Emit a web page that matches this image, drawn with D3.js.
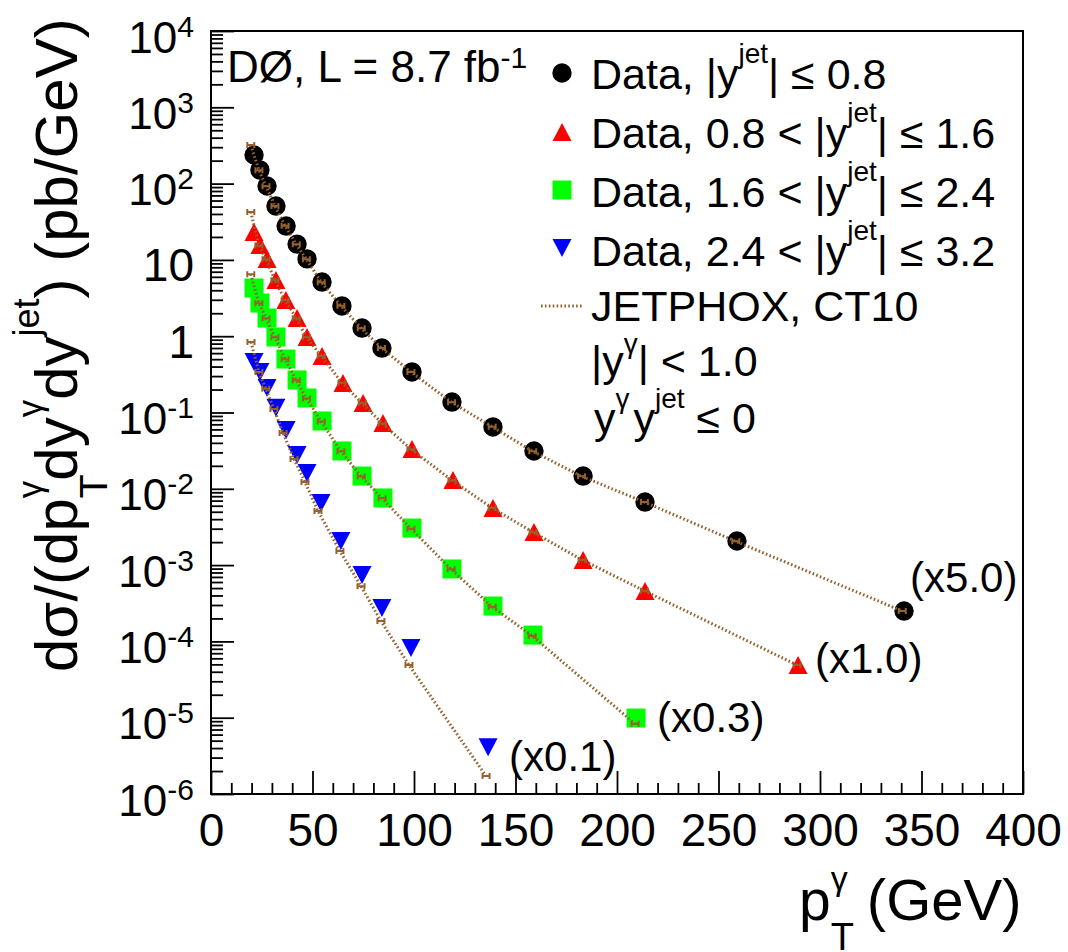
<!DOCTYPE html>
<html>
<head>
<meta charset="utf-8">
<script src="https://cdn.jsdelivr.net/npm/d3@7"></script>
<style>
  body { margin: 0; background: #fff; }
  svg { display: block; font-family: 'Liberation Sans', Arial, Helvetica, sans-serif; }
</style>
</head>
<body>
<div id="canvas"></div>
<script>
// photon pT (GeV) and scaled cross sections (pb/GeV) for the four |y^jet| bins
const ptCentral = [21.2, 24.1, 27.6, 32.0, 37.0, 42.4, 47.3, 54.7, 64.5, 74.4, 84.2, 99.0, 118.7, 138.9, 159.1, 183.3, 213.8, 259.1, 341.4];
const xsCentral = [237, 151, 93, 50.8, 27.8, 16.1, 10.3, 5.13, 2.49, 1.28, 0.70, 0.34, 0.137, 0.0646, 0.0313, 0.0147, 0.00671, 0.00207, 2.5e-4];
const ptMid = [21.2, 24.1, 27.6, 32.0, 36.9, 42.4, 47.3, 54.7, 65.0, 74.9, 84.7, 99.0, 119.2, 138.9, 159.1, 183.3, 213.8, 289.2];
const xsMid = [23.2, 15.7, 10.3, 5.45, 2.98, 1.73, 0.977, 0.55, 0.244, 0.133, 0.0728, 0.0333, 0.0130, 0.0056, 0.00272, 0.00117, 4.58e-4, 4.9e-5];
const ptFwd = [21.2, 24.1, 27.6, 32.0, 36.9, 42.4, 47.3, 54.7, 64.5, 74.4, 84.7, 99.0, 118.7, 138.9, 158.6, 209.4];
const xsFwd = [4.28, 2.72, 1.73, 0.977, 0.502, 0.267, 0.155, 0.0774, 0.0313, 0.0147, 0.00759, 0.00306, 8.9e-4, 2.91e-4, 1.21e-4, 9.9e-6];
const ptVfwd = [21.2, 24.1, 27.6, 32.0, 37.0, 42.4, 47.3, 54.2, 64.0, 74.4, 84.2, 98.5, 136.5];
const xsVfwd = [0.459, 0.34, 0.21, 0.115, 0.059, 0.0277, 0.0161, 0.00652, 0.00207, 7.4e-4, 2.74e-4, 8.2e-5, 4.1e-6];

// JETPHOX CT10 predictions
const thPtCentral = [19.6, 23.6, 27.1, 31.5, 36.5, 42.0, 47.0, 54.3, 64.0, 74.0, 84.0, 98.5, 118.5, 138.5, 158.5, 182.5, 213.5, 258.5, 340.5];
const thXsCentral = [320, 150, 92, 51, 28, 16, 10.2, 5.1, 2.5, 1.27, 0.70, 0.34, 0.136, 0.065, 0.031, 0.0146, 0.0067, 0.00205, 2.5e-4];
const thPtMid = [19.6, 23.6, 27.1, 31.5, 36.5, 42.0, 47.0, 54.3, 64.5, 74.5, 84.3, 98.5, 118.7, 138.5, 158.7, 182.8, 213.5, 288.7];
const thXsMid = [42.5, 15.5, 10.2, 5.4, 2.95, 1.72, 0.97, 0.55, 0.245, 0.132, 0.072, 0.033, 0.0129, 0.0056, 0.0027, 0.00117, 4.6e-4, 4.9e-5];
const thPtFwd = [19.6, 23.6, 27.1, 31.5, 36.5, 42.0, 47.0, 54.3, 64.0, 74.0, 84.3, 98.5, 118.3, 138.5, 158.2, 208.9];
const thXsFwd = [6.5, 2.7, 1.72, 0.97, 0.50, 0.265, 0.153, 0.076, 0.031, 0.0145, 0.0075, 0.003, 8.8e-4, 2.85e-4, 1.18e-4, 8.3e-6];
const thPtVfwd = [19.7, 23.6, 27.0, 31.0, 35.5, 40.9, 46.3, 52.7, 63.5, 73.9, 83.7, 97.5, 135.5];
const thXsVfwd = [0.84, 0.34, 0.205, 0.111, 0.0538, 0.0246, 0.01227, 0.00512, 0.00153, 5.3e-4, 1.85e-4, 4.9e-5, 1.72e-6];

const scaleLabels = ['(x5.0)', '(x1.0)', '(x0.3)', '(x0.1)'];
const xTickValues = [0, 50, 100, 150, 200, 250, 300, 350, 400];
const xTickLabels = ['0', '50', '100', '150', '200', '250', '300', '350', '400'];
const yTickValues = [1e-6, 1e-5, 1e-4, 1e-3, 1e-2, 1e-1, 1, 10, 1e2, 1e3, 1e4];
const yTickLabels = [['10', '-6'], ['10', '-5'], ['10', '-4'], ['10', '-3'], ['10', '-2'], ['10', '-1'], ['1', ''], ['10', ''], ['10', '2'], ['10', '3'], ['10', '4']];

(function () {
  'use strict';
  const width = 1068;
  const height = 952;
  const left = 211, right = 1023, top = 31, bottom = 794;
  const brown = '#95622c';

  const series = [
    { pt: ptCentral, xs: xsCentral, tpt: thPtCentral, txs: thXsCentral, color: '#000000', shape: 'circle', label: scaleLabels[0], off: [6, -19] },
    { pt: ptMid, xs: xsMid, tpt: thPtMid, txs: thXsMid, color: '#ff0000', shape: 'up', label: scaleLabels[1], off: [17, 8] },
    { pt: ptFwd, xs: xsFwd, tpt: thPtFwd, txs: thXsFwd, color: '#00ff00', shape: 'square', label: scaleLabels[2], off: [21, 14] },
    { pt: ptVfwd, xs: xsVfwd, tpt: thPtVfwd, txs: thXsVfwd, color: '#0000ff', shape: 'down', label: scaleLabels[3], off: [21, 24] }
  ];

  const shapes = {
    circle: 'M-9.7,0a9.7,9.7 0 1,0 19.4,0a9.7,9.7 0 1,0 -19.4,0Z',
    up: 'M0,-9L9.5,9L-9.5,9Z',
    down: 'M0,9L9.5,-9L-9.5,-9Z',
    square: 'M-9.5,-9.5H9.5V9.5H-9.5Z'
  };

  const x = d3.scaleLinear().domain([0, 400]).range([left, right]);
  const y = d3.scaleLog().domain([1e-6, 1e4]).range([bottom, top]);

  const svg = d3.select('#canvas').append('svg')
    .attr('width', width)
    .attr('height', height);

  // helper for text with sub/superscripts: parts = [text, size, shift, stack, dx]
  function rich(t, parts) {
    let cur = 0;
    let prevLen = 0;
    parts.forEach(p => {
      const ts = t.append('tspan')
        .attr('font-size', p[1])
        .attr('dy', p[2] - cur)
        .text(p[0]);
      if (p[3]) ts.attr('dx', -prevLen);
      else if (p[4]) ts.attr('dx', p[4]);
      cur = p[2];
      prevLen = ts.node().getComputedTextLength();
    });
    return t;
  }

  // x axis
  const xMinor = d3.range(0, 401, 10).filter(v => v % 50 !== 0);
  svg.append('g')
    .attr('transform', 'translate(0,' + bottom + ')')
    .call(d3.axisBottom(x).tickValues(xMinor).tickSize(-11).tickFormat(''))
    .call(g => g.select('.domain').remove());
  const xAxisG = svg.append('g')
    .attr('transform', 'translate(0,' + bottom + ')')
    .call(d3.axisBottom(x).tickValues(xTickValues).tickSize(-23).tickSizeOuter(0).tickPadding(19)
      .tickFormat((d, i) => xTickLabels[i]))
    .call(g => g.select('.domain').remove());
  xAxisG.attr('font-size', 46).attr('font-family', null);
  xAxisG.selectAll('.tick text').attr('fill', '#000');

  // y axis
  const yMinor = [];
  for (let e = -6; e < 4; e++) {
    for (let m = 2; m < 10; m++) yMinor.push(m * Math.pow(10, e));
  }
  svg.append('g')
    .attr('transform', 'translate(' + left + ',0)')
    .call(d3.axisLeft(y).tickValues(yMinor).tickSize(-12).tickFormat(''))
    .call(g => g.select('.domain').remove());
  const yAxisG = svg.append('g')
    .attr('transform', 'translate(' + left + ',0)')
    .call(d3.axisLeft(y).tickValues(yTickValues).tickSize(-23).tickSizeOuter(0).tickFormat(''))
    .call(g => g.select('.domain').remove());
  yAxisG.attr('font-family', null);
  yAxisG.selectAll('.tick').each(function (d, i) {
    const lab = yTickLabels[i];
    const t = d3.select(this).select('text')
      .attr('x', -17).attr('y', 21).attr('dy', null).attr('fill', '#000').text('');
    if (lab[1] === '') {
      t.attr('font-size', 46).text(lab[0]);
    } else {
      t.append('tspan').attr('font-size', 44).text(lab[0]);
      t.append('tspan').attr('font-size', 30).attr('dy', -16).text(lab[1]);
    }
  });
  svg.selectAll('.tick line').attr('stroke', '#000').attr('stroke-width', 1.8);

  // frame
  svg.append('rect')
    .attr('x', left).attr('y', top)
    .attr('width', right - left).attr('height', bottom - top)
    .attr('fill', 'none').attr('stroke', '#000').attr('stroke-width', 2);

  // data markers
  series.forEach(s => {
    svg.append('g').selectAll('path')
      .data(s.pt.map((p, i) => [p, s.xs[i]]))
      .enter()
      .append('path')
      .attr('transform', d => 'translate(' + x(d[0]) + ',' + y(d[1]) + ')')
      .attr('d', shapes[s.shape])
      .attr('fill', s.color);
  });

  // theory lines with their small uncertainty marks
  const line = d3.line().x(d => x(d[0])).y(d => y(d[1]));
  series.forEach(s => {
    const pts = s.tpt.map((p, i) => [p, s.txs[i]]);
    svg.append('path')
      .datum(pts)
      .attr('d', line)
      .attr('fill', 'none')
      .attr('stroke', brown)
      .attr('stroke-width', 3)
      .attr('stroke-dasharray', '1.6,2.3');
    svg.append('g').selectAll('path')
      .data(pts)
      .enter()
      .append('path')
      .attr('transform', d => 'translate(' + x(d[0]) + ',' + y(d[1]) + ')')
      .attr('d', 'M-3.5,-3V3M3.5,-3V3M-3.5,0H3.5')
      .attr('fill', 'none')
      .attr('stroke', brown)
      .attr('stroke-width', 2);
  });

  // scale factor labels next to the last point of each series
  series.forEach(s => {
    const n = s.pt.length - 1;
    svg.append('text')
      .attr('x', x(s.pt[n]) + s.off[0])
      .attr('y', y(s.xs[n]) + s.off[1])
      .attr('font-size', 42)
      .text(s.label);
  });

  // experiment label
  rich(svg.append('text').attr('x', 227).attr('y', 82),
    [['DØ, L = 8.7 fb', 44, 0], ['-1', 30, -14]]);

  // legend
  const lx = 562;
  const tx = 591;
  const legRows = [
    { shape: 'circle', color: '#000000', cy: 73, base: 89, parts: [['Data, |y', 43, 0], ['jet', 28, -26], ['| ≤ 0.8', 43, 0]] },
    { shape: 'up', color: '#ff0000', cy: 132, base: 148, parts: [['Data, 0.8 < |y', 43, 0], ['jet', 28, -26], ['| ≤ 1.6', 43, 0]] },
    { shape: 'square', color: '#00ff00', cy: 190, base: 207, parts: [['Data, 1.6 < |y', 43, 0], ['jet', 28, -26], ['| ≤ 2.4', 43, 0]] },
    { shape: 'down', color: '#0000ff', cy: 248, base: 266, parts: [['Data, 2.4 < |y', 43, 0], ['jet', 28, -26], ['| ≤ 3.2', 43, 0]] }
  ];
  legRows.forEach(r => {
    svg.append('path')
      .attr('transform', 'translate(' + lx + ',' + r.cy + ')')
      .attr('d', shapes[r.shape])
      .attr('fill', r.color);
    rich(svg.append('text').attr('x', tx).attr('y', r.base), r.parts);
  });
  svg.append('line')
    .attr('x1', 541).attr('x2', 583).attr('y1', 306).attr('y2', 306)
    .attr('stroke', brown).attr('stroke-width', 3).attr('stroke-dasharray', '1.6,2.3');
  rich(svg.append('text').attr('x', tx).attr('y', 321), [['JETPHOX, CT10', 43, 0]]);
  rich(svg.append('text').attr('x', tx).attr('y', 376), [['|y', 43, 0], ['γ', 28, -23], ['| < 1.0', 43, 0]]);
  rich(svg.append('text').attr('x', tx + 3).attr('y', 433),
    [['y', 43, 0], ['γ', 28, -25], ['y', 43, 0, false, 4], ['jet', 28, -25], [' ≤ 0', 43, 0]]);

  // axis titles
  rich(svg.append('text').attr('x', 799).attr('y', 920),
    [['p', 57, 0], ['T', 38, 30], ['γ', 34, -30, true], [' (GeV)', 58, 0, false, 3]]);
  rich(svg.append('text').attr('transform', 'translate(77,672) rotate(-90)'),
    [['dσ/(dp', 60, 0], ['T', 39, 30], ['γ', 35, -35, true], ['dy', 60, 0], ['γ', 35, -35], ['dy', 60, 0], ['jet', 36, -38], [') (pb/GeV)', 60, 0]]);
}());
</script>
</body>
</html>
